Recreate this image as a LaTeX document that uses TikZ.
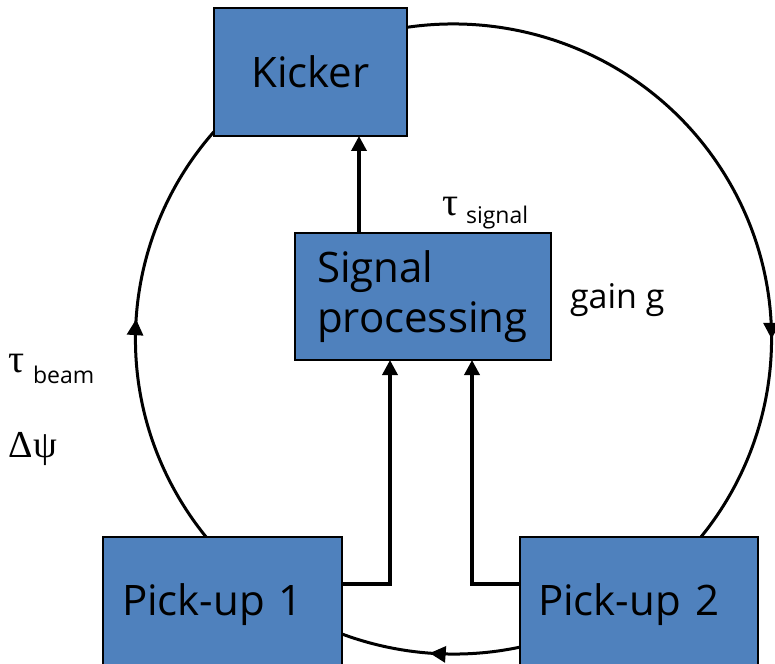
\documentclass[tikz,border=0pt]{standalone}
\usepackage{fontspec}
\setmainfont{Open Sans}
\newfontfamily\grk{Liberation Serif}
\usetikzlibrary{arrows.meta,decorations.markings,calc}
\definecolor{boxblue}{HTML}{4F81BD}
\begin{document}
\begin{tikzpicture}[x=1pt,y=-1pt,
  blockbox/.style={draw=black, line width=2.5pt, fill=boxblue, rectangle, anchor=north west,
    inner ysep=0pt, outer sep=0pt, font=\fontsize{42}{50}\selectfont},
  tipp/.tip={Triangle[length=15pt,width=15pt]},
  ringtip/.tip={Triangle[length=16pt,width=16pt]},
  feed/.style={line width=3.5pt, line join=miter, -tipp},
  ring/.style={line width=3pt},
  lbl/.style={anchor=base west, inner sep=0pt, outer sep=0pt}]
\useasboundingbox (0,0) rectangle (775,663);
\clip (0,0) rectangle (775,663);
\fill[white] (0,0) rectangle (775,663);

% ring
\coordinate (c) at (453.5,339);
\draw[ring, postaction={decorate}, decoration={markings,
    mark=at position 0.083 with {\arrow{ringtip}},
    mark=at position 0.345 with {\arrow{ringtip}},
    mark=at position 0.593 with {\arrow{ringtip}}}]
  (c) ++(-30:318 and 315) arc[start angle=-30, end angle=330, x radius=318, y radius=315];

% boxes
\node[blockbox, minimum width=193pt, minimum height=128pt, align=center] (kicker) at (214,8) {Kicker};
\node[blockbox, minimum width=256pt, minimum height=127pt, text width=212pt, inner xsep=22pt, align=left] (sig) at (295,233) {Signal\\processing};
\node[blockbox, minimum width=239pt, minimum height=136pt, text width=201pt, inner xsep=19pt, align=left] (pu1) at (103,537) {Pick-up 1};
\node[blockbox, minimum width=238pt, minimum height=136pt, text width=202pt, inner xsep=18pt, align=left] (pu2) at (520,537) {Pick-up 2};

% connectors
\coordinate (k1) at ($(sig.north west)+(64,0)$);
\draw[feed] (k1) -- (k1 |- kicker.south);
\coordinate (p1) at ($(pu1.north east)+(0,47)$);
\coordinate (s1) at ($(sig.south west)+(95,0)$);
\draw[feed] (p1) -- (p1 -| s1) -- (s1);
\coordinate (p2) at ($(pu2.north west)+(0,47)$);
\coordinate (s2) at ($(sig.south west)+(177,0)$);
\draw[feed] (p2) -- (p2 -| s2) -- (s2);

% labels
\node[lbl, font=\fontsize{34}{40}\selectfont] (gain) at (570,308) {gain g};
\node[lbl] (tsig) at (442,215) {{\grk\fontsize{40}{44}\selectfont τ}\hspace{8pt}\raisebox{-8pt}{\fontsize{23}{26}\selectfont signal}};
\node[lbl] (tbeam) at (9,372) {{\grk\fontsize{40}{44}\selectfont τ}\hspace{8pt}\raisebox{-11pt}{\fontsize{23}{26}\selectfont beam}};
\node[lbl] (dpsi) at (9,457) {\grk\fontsize{38}{42}\selectfont Δψ};
\end{tikzpicture}
\end{document}
